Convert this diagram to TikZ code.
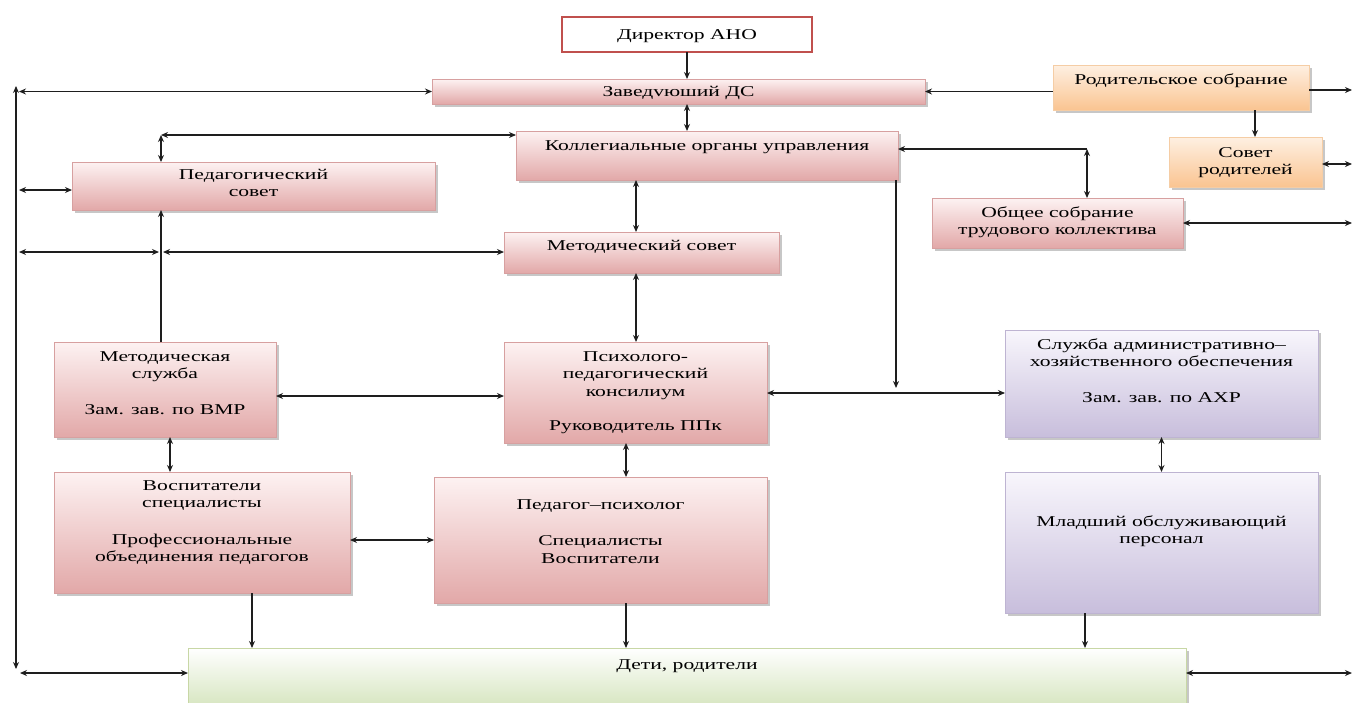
\documentclass[tikz,border=0pt]{standalone}
\usepackage{fontspec}
\setmainfont{Liberation Serif}[FakeStretch=1.44]
\usetikzlibrary{arrows.meta,shadows}
\definecolor{pinkedge}{RGB}{215,160,160}
\definecolor{pinktop}{RGB}{253,242,242}
\definecolor{pinkbot}{RGB}{226,168,168}
\definecolor{orgedge}{RGB}{245,205,165}
\definecolor{orgtop}{RGB}{254,240,226}
\definecolor{orgbot}{RGB}{250,196,145}
\definecolor{lavedge}{RGB}{190,180,210}
\definecolor{lavtop}{RGB}{248,246,252}
\definecolor{lavbot}{RGB}{200,190,220}
\definecolor{grnedge}{RGB}{200,215,165}
\definecolor{grntop}{RGB}{255,255,255}
\definecolor{grnbot}{RGB}{212,228,188}
\definecolor{diredge}{RGB}{192,80,77}
\definecolor{lnk}{RGB}{30,30,30}
\newcommand{\bt}[4]{\parbox[c][#2pt][t]{#1pt}{\centering\vspace*{#3pt}\strut#4}}
\tikzset{
  bx/.style={inner sep=0pt, outer sep=0pt, anchor=north west, line width=0.8pt,
    font=\fontsize{15}{17.5}\selectfont,
    drop shadow={shadow xshift=2.5pt, shadow yshift=-2.5pt, fill=black!40, opacity=0.55}},
  pinkbox/.style={bx, draw=pinkedge, top color=pinktop, bottom color=pinkbot},
  orgbox/.style={bx, draw=orgedge, top color=orgtop, bottom color=orgbot},
  lavbox/.style={bx, draw=lavedge, top color=lavtop, bottom color=lavbot},
  grnbox/.style={bx, draw=grnedge, top color=grntop, bottom color=grnbot},
  dirbox/.style={inner sep=0pt, outer sep=0pt, anchor=north west, draw=diredge, line width=2.8pt, fill=white,
    font=\fontsize{15}{17.5}\selectfont},
  a/.style={-{Stealth[length=7pt,width=6pt]}, line width=1.3pt, draw=lnk},
  aa/.style={{Stealth[length=7pt,width=6pt]}-{Stealth[length=7pt,width=6pt]}, line width=1.3pt, draw=lnk},
  ra/.style={{Stealth[length=7pt,width=6pt]}-, line width=1.3pt, draw=lnk}
}
\begin{document}
\begin{tikzpicture}[x=1pt,y=-1pt]
\useasboundingbox (0,0) rectangle (1355,702);
% boxes
\node[dirbox]  (dir)   at (562,17)   {\bt{250}{35}{10}{Директор АНО}};
\node[pinkbox] (zav)   at (432,79)   {\bt{493}{25}{5}{Заведvюший ДС}};
\node[pinkbox] (kol)   at (516,131)  {\bt{382}{49}{7}{Коллегиальные органы управления}};
\node[pinkbox] (ped)   at (72,162)   {\bt{363}{48}{5}{Педагогический\\совет}};
\node[pinkbox] (msov)  at (504,232)  {\bt{275}{41}{6}{Методический совет}};
\node[pinkbox] (obsh)  at (932,198)  {\bt{251}{50}{7}{Общее собрание\\трудового коллектива}};
\node[orgbox]  (rod)   at (1053,65)  {\bt{256}{45}{7}{Родительское собрание}};
\node[orgbox]  (sovr)  at (1169,137) {\bt{153}{50}{8}{Совет\\родителей}};
\node[pinkbox] (mslu)  at (54,342)   {\bt{222}{95}{7}{Методическая\\служба\\[18pt]Зам. зав. по ВМР}};
\node[pinkbox] (psy)   at (504,342)  {\bt{263}{101}{7}{Психолого-\\педагогический\\консилиум\\[17pt]Руководитель ППк}};
\node[lavbox]  (akh)   at (1005,330) {\bt{313}{107}{7}{Служба административно–\\хозяйственного обеспечения\\[18pt]Зам. зав. по АХР}};
\node[pinkbox] (vos)   at (54,472)   {\bt{296}{121}{6}{Воспитатели\\специалисты\\[19pt]Профессиональные\\объединения педагогов}};
\node[pinkbox] (pedps) at (434,477)  {\bt{333}{126}{20}{Педагог–психолог\\[19pt]Специалисты\\Воспитатели}};
\node[lavbox]  (mlad)  at (1005,472) {\bt{313}{141}{42}{Младший обслуживающий\\персонал}};
\node[grnbox]  (deti)  at (188,648)  {\bt{998}{62}{9}{Дети, родители}};
% free ends
\coordinate (Ltop) at (16,86);
\coordinate (Lbot) at (16,669);
\coordinate (L1) at (19,91.5);
\coordinate (L2) at (19,190);
\coordinate (L3) at (19,252);
\coordinate (M2) at (161,252);
\coordinate (K1) at (161,135);
\coordinate (B1) at (20,673);
\coordinate (X636) at (636,0);
\coordinate (Y396) at (0,396);
\coordinate (J) at (896,388);
\coordinate (Y393) at (0,393);
\coordinate (K2) at (1087,149);
\coordinate (R1) at (1352,90);
\coordinate (R2) at (1352,164);
\coordinate (R3) at (1352,223);
\coordinate (R4) at (1352,673);
\coordinate (X1255) at (1255,0);
\coordinate (X170) at (170,0);
\coordinate (X626) at (626,0);
\coordinate (Y540) at (0,540);
\coordinate (X252) at (252,0);
\coordinate (X1085) at (1085,0);
% connectors
\draw[a] (dir.south) -- (dir.south |- zav.north);
\draw[aa] (dir.south |- zav.south) -- (dir.south |- kol.north);
\draw[aa] (Lbot) -- (Ltop);
\draw[aa] (L1) -- (L1 -| zav.west);
\draw[aa] (L2) -- (L2 -| ped.west);
\draw[aa] (L3) -- ([xshift=-2pt]M2);
\draw[aa] ([xshift=2pt]M2) -- (M2 -| msov.west);
\draw[a] (M2 |- mslu.north) -- (M2 |- ped.south);
\draw[aa] (K1) -- (K1 -| kol.west);
\draw[aa] (K1) -- (K1 |- ped.north);
\draw[aa] (X636 |- kol.south) -- (X636 |- msov.north);
\draw[aa] (X636 |- msov.south) -- (X636 |- psy.north);
\draw[aa] (mslu.east |- Y396) -- (psy.west |- Y396);
\draw[a] (J |- kol.south) -- (J);
\draw[aa] (psy.east |- Y393) -- (akh.west |- Y393);
\draw[ra] (kol.east |- K2) -- (K2);
\draw[aa] (K2) -- (K2 |- obsh.north);
\draw[aa] (obsh.east |- R3) -- (R3);
\draw[a] (rod.west |- zav.east) -- (zav.east);
\draw[a] (rod.east |- R1) -- (R1);
\draw[a] (X1255 |- rod.south) -- (X1255 |- sovr.north);
\draw[aa] (sovr.east |- R2) -- (R2);
\draw[aa] (akh.south) -- (mlad.north);
\draw[aa] (X170 |- mslu.south) -- (X170 |- vos.north);
\draw[aa] (X626 |- psy.south) -- (X626 |- pedps.north);
\draw[aa] (vos.east |- Y540) -- (pedps.west |- Y540);
\draw[a] (X252 |- vos.south) -- (X252 |- deti.north);
\draw[a] (X626 |- pedps.south) -- (X626 |- deti.north);
\draw[a] (X1085 |- mlad.south) -- (X1085 |- deti.north);
\draw[aa] (B1) -- (B1 -| deti.west);
\draw[aa] (deti.east |- R4) -- (R4);
\end{tikzpicture}
\end{document}
